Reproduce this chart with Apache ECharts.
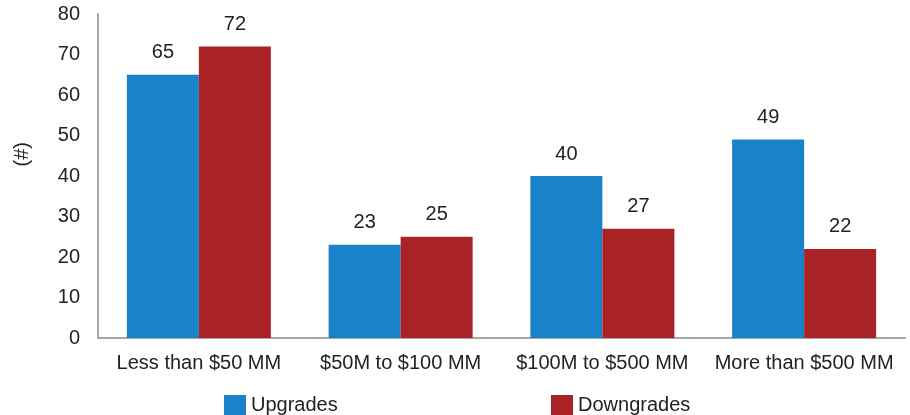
<!DOCTYPE html>
<html>
<head>
<meta charset="utf-8">
<script src="https://cdn.jsdelivr.net/npm/echarts@6/dist/echarts.min.js"></script>
<style>
  html, body { margin: 0; padding: 0; background: #fff; }
  #chart { width: 910px; height: 415px; }
</style>
</head>
<body>
<div id="chart"></div>
<script>
const categories = ['Less than $50 MM', '$50M to $100 MM', '$100M to $500 MM', 'More than $500 MM'];
const upgrades = [65, 23, 40, 49];
const downgrades = [72, 25, 27, 22];
const yTicks = { min: 0, max: 80, interval: 10 };

const FONT = 'Liberation Sans, Arial, sans-serif';
const TEXT = '#222222';
const AXIS = '#a6a6a6';

const chart = echarts.init(document.getElementById('chart'));
const labelStyle = {
  show: true, position: 'top', distance: 12,
  color: TEXT, fontSize: 20, fontFamily: FONT
};
const legendText = { color: TEXT, fontSize: 20, fontFamily: FONT };
chart.setOption({
  animation: false,
  grid: { left: 98, right: 5, top: 14, bottom: 77 },
  legend: [
    {
      data: ['Upgrades'], left: 219, top: 390, icon: 'rect',
      itemWidth: 22, itemHeight: 21, itemGap: 0, textStyle: legendText
    },
    {
      data: ['Downgrades'], left: 546, top: 390, icon: 'rect',
      itemWidth: 22, itemHeight: 21, itemGap: 0, textStyle: legendText
    }
  ],
  graphic: [{
    type: 'text', left: 12, top: 142, rotation: Math.PI / 2,
    style: { text: '(#)', fill: TEXT, fontSize: 20, fontFamily: FONT }
  }],
  xAxis: {
    type: 'category', data: categories,
    axisLine: { lineStyle: { color: AXIS, width: 2 } },
    axisTick: { show: false },
    axisLabel: { color: TEXT, fontSize: 20, fontFamily: FONT, margin: 15, interval: 0 }
  },
  yAxis: {
    type: 'value', min: yTicks.min, max: yTicks.max, interval: yTicks.interval,
    axisLine: { show: true, lineStyle: { color: AXIS, width: 2 } },
    axisTick: { show: false },
    splitLine: { show: false },
    axisLabel: { color: TEXT, fontSize: 20, fontFamily: FONT, margin: 18 }
  },
  series: [
    {
      name: 'Upgrades', type: 'bar', data: upgrades,
      barWidth: 72, barGap: '0%',
      itemStyle: { color: '#1a82c8' }, label: labelStyle
    },
    {
      name: 'Downgrades', type: 'bar', data: downgrades,
      barWidth: 72,
      itemStyle: { color: '#a82226' }, label: labelStyle
    }
  ]
});
</script>
</body>
</html>
